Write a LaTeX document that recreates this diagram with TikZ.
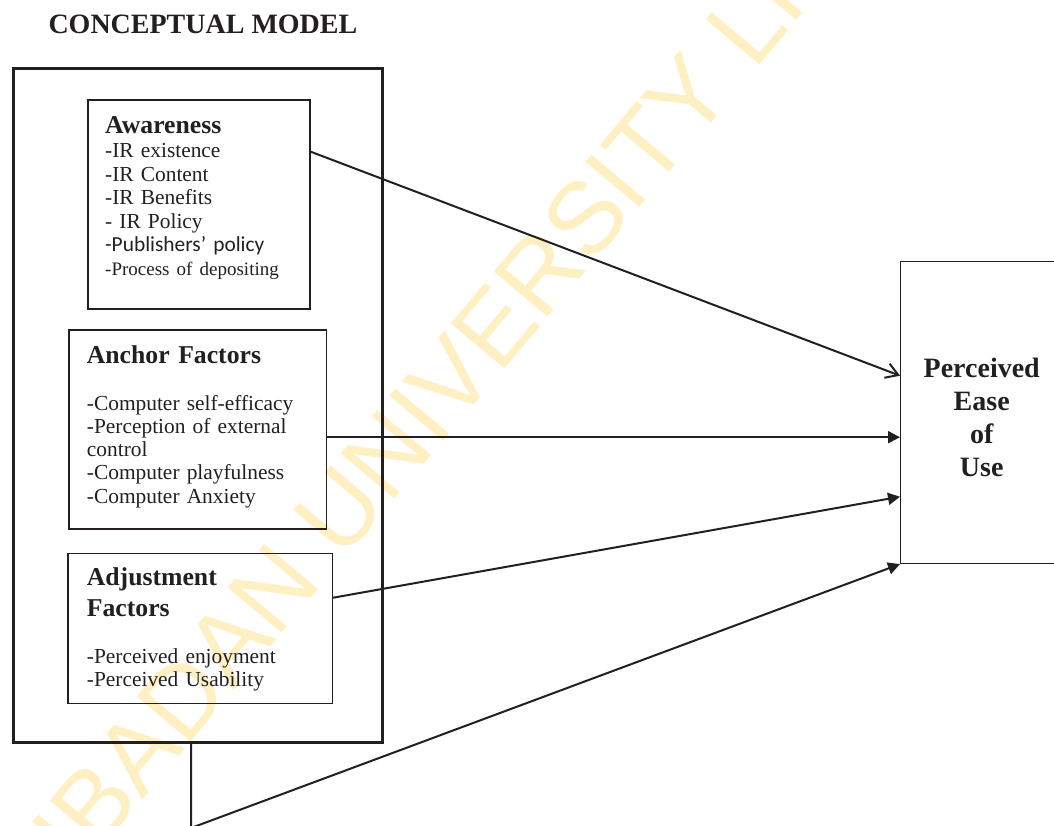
\documentclass[tikz,border=0pt]{standalone}
\usepackage{fontspec}
\setmainfont{Liberation Serif}
\newfontfamily\calibrifont{Carlito}
\newfontfamily\wmfont{Liberation Sans}
\usetikzlibrary{arrows.meta}
\definecolor{wm}{RGB}{255,240,196}
\definecolor{ink}{RGB}{35,31,32}
\begin{document}
\begin{tikzpicture}[x=1pt,y=-1pt,
  box/.style={draw=ink, line width=1.4pt, inner sep=0pt, anchor=north west},
  outerbox/.style={draw=ink, line width=3pt, inner sep=0pt, anchor=north west},
  head/.style={font=\fontsize{25.7}{30.3}\selectfont\bfseries, anchor=base west, inner sep=0pt, text width=240pt, align=left, text=ink},
  body/.style={font=\fontsize{21.4}{23.4}\selectfont, anchor=base west, inner sep=0pt, text width=250pt, align=left, text=ink},
  conn/.style={draw=ink, line width=2pt},
  tip/.style={-{Triangle[length=12pt,width=12pt]}},
  opentip/.style={-{Straight Barb[length=12pt,width=15pt]}}
]
\clip (0,0) rectangle (1054,825);
% watermark
\node[font=\wmfont\fontsize{102}{102}\selectfont, text=wm, rotate=50, anchor=base west, inner sep=0pt] (wmark) at (80,874.5) {IBADAN UNIVERSITY LIBRARY};

% title
\node[font=\fontsize{28}{32}\selectfont\bfseries, anchor=base west, inner sep=0pt, text=ink] (title) at (48.3,33.3) {CONCEPTUAL MODEL};

% boxes
\node[outerbox, minimum width=369.5pt, minimum height=674pt] (outer) at (11.5,67) {};
\node[box, minimum width=222pt, minimum height=209pt] (aw) at (87.3,99.3) {};
\node[box, minimum width=257.7pt, minimum height=199pt] (an) at (68.3,329.3) {};
\node[box, minimum width=264.4pt, minimum height=150pt] (ad) at (67.3,552.7) {};
\node[box, minimum width=175pt, minimum height=302pt] (pe) at (900,260.7) {};

% texts
\node[head] (awh) at (105,133.3) {Awareness};
\node[body, font=\fontsize{21.4}{23.5}\selectfont] (awb) at (105,157.7) {-IR existence\\-IR Content\\-IR Benefits\\- IR Policy\\{\calibrifont -Publishers’ policy}\\{\fontsize{19}{23.5}\selectfont -Process of depositing}};

\node[head] (anh) at (86.7,363.3) {Anchor Factors};
\node[body, font=\fontsize{21.4}{23.3}\selectfont] (anb) at (86.7,410) {-Computer self-efficacy\\-Perception of external\\control\\-Computer playfulness\\-Computer Anxiety};

\node[head] (adh) at (86.7,585.7) {Adjustment\\Factors};
\node[body] (adb) at (86.7,663.3) {-Perceived enjoyment\\-Perceived Usability};

\node[font=\fontsize{28}{33}\selectfont\bfseries, anchor=base, inner sep=0pt, text width=170pt, align=center, text=ink] (pet) at (981.7,377.7) {Perceived\\Ease\\of\\Use};

% connector targets
\coordinate (t1) at ([yshift=36.7pt]pe.west);
\coordinate (t2) at ([yshift=-24.8pt]pe.west);
\coordinate (t3) at ([yshift=-84.3pt]pe.west);
\coordinate (s1) at ([yshift=-52.4pt]aw.north east);
\coordinate (s3) at ([yshift=30.7pt]ad.east);
\coordinate (stub) at (191,828);

\draw[conn, opentip] (s1) -- (t1);
\draw[conn, tip] (t2 -| an.east) -- (t2);
\draw[conn, tip] (s3) -- (t3);
\draw[conn, tip] (outer.south -| stub) -- (stub) -- (pe.south west);
\end{tikzpicture}
\end{document}
